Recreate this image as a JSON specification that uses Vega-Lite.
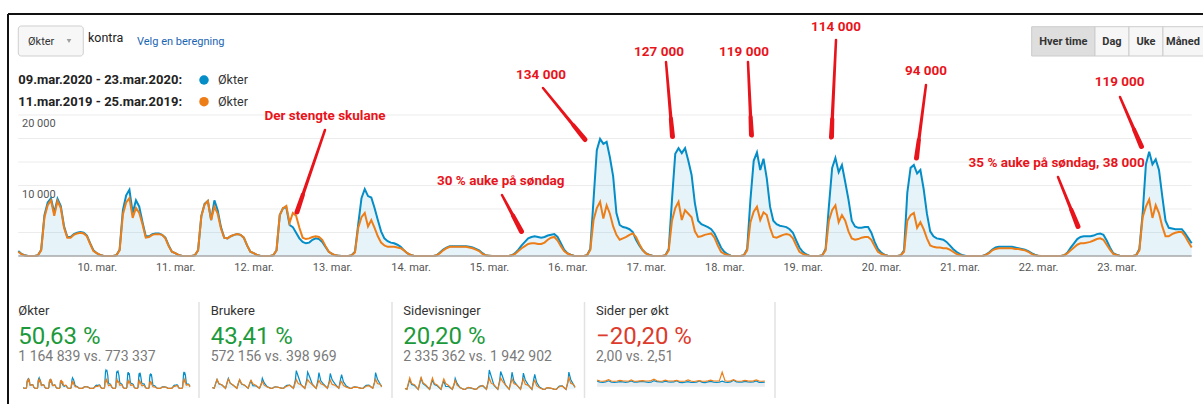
{
"$schema":"https://vega.github.io/schema/vega-lite/v6.json",
"width":1195,"height":390,
"autosize":{"type":"none"},
"padding":{"left":8,"top":14,"right":0,"bottom":0},
"background":"#ffffff",
"config":{"view":{"stroke":null},"font":"Roboto","text":{"font":"Roboto"}},
"datasets":{
"main":[
{"t":"2020-03-09T00:00","a":700,"b":600},{"t":"2020-03-09T01:00","a":300,"b":250},{"t":"2020-03-09T02:00","a":100,"b":80},{"t":"2020-03-09T03:00","a":0,"b":0},{"t":"2020-03-09T04:00","a":0,"b":0},{"t":"2020-03-09T05:00","a":0,"b":0},{"t":"2020-03-09T06:00","a":100,"b":100},{"t":"2020-03-09T07:00","a":900,"b":800},{"t":"2020-03-09T08:00","a":5800,"b":5500},{"t":"2020-03-09T09:00","a":7600,"b":7200},{"t":"2020-03-09T10:00","a":8200,"b":7900},{"t":"2020-03-09T11:00","a":6100,"b":5700},{"t":"2020-03-09T12:00","a":8100,"b":7800},{"t":"2020-03-09T13:00","a":7100,"b":6800},{"t":"2020-03-09T14:00","a":4200,"b":4000},{"t":"2020-03-09T15:00","a":2700,"b":2600},{"t":"2020-03-09T16:00","a":2700,"b":2600},{"t":"2020-03-09T17:00","a":3100,"b":3000},{"t":"2020-03-09T18:00","a":3300,"b":3200},{"t":"2020-03-09T19:00","a":3400,"b":3300},{"t":"2020-03-09T20:00","a":3300,"b":3200},{"t":"2020-03-09T21:00","a":2900,"b":2800},{"t":"2020-03-09T22:00","a":1800,"b":1700},{"t":"2020-03-09T23:00","a":800,"b":700},
{"t":"2020-03-10T00:00","a":400,"b":400},{"t":"2020-03-10T01:00","a":150,"b":150},{"t":"2020-03-10T02:00","a":50,"b":50},{"t":"2020-03-10T03:00","a":0,"b":0},{"t":"2020-03-10T04:00","a":0,"b":0},{"t":"2020-03-10T05:00","a":0,"b":0},{"t":"2020-03-10T06:00","a":100,"b":100},{"t":"2020-03-10T07:00","a":900,"b":800},{"t":"2020-03-10T08:00","a":6500,"b":5900},{"t":"2020-03-10T09:00","a":8600,"b":7600},{"t":"2020-03-10T10:00","a":9400,"b":8200},{"t":"2020-03-10T11:00","a":6100,"b":5400},{"t":"2020-03-10T12:00","a":7900,"b":6800},{"t":"2020-03-10T13:00","a":7000,"b":6100},{"t":"2020-03-10T14:00","a":4800,"b":4500},{"t":"2020-03-10T15:00","a":2800,"b":2600},{"t":"2020-03-10T16:00","a":2800,"b":2700},{"t":"2020-03-10T17:00","a":3100,"b":3000},{"t":"2020-03-10T18:00","a":3200,"b":3100},{"t":"2020-03-10T19:00","a":3200,"b":3100},{"t":"2020-03-10T20:00","a":3000,"b":3000},{"t":"2020-03-10T21:00","a":2600,"b":2500},{"t":"2020-03-10T22:00","a":1500,"b":1400},{"t":"2020-03-10T23:00","a":600,"b":600},
{"t":"2020-03-11T00:00","a":400,"b":400},{"t":"2020-03-11T01:00","a":150,"b":150},{"t":"2020-03-11T02:00","a":50,"b":50},{"t":"2020-03-11T03:00","a":0,"b":0},{"t":"2020-03-11T04:00","a":0,"b":0},{"t":"2020-03-11T05:00","a":0,"b":0},{"t":"2020-03-11T06:00","a":100,"b":100},{"t":"2020-03-11T07:00","a":800,"b":800},{"t":"2020-03-11T08:00","a":5700,"b":5600},{"t":"2020-03-11T09:00","a":7400,"b":7300},{"t":"2020-03-11T10:00","a":7800,"b":7800},{"t":"2020-03-11T11:00","a":5100,"b":5100},{"t":"2020-03-11T12:00","a":7900,"b":7000},{"t":"2020-03-11T13:00","a":6500,"b":6000},{"t":"2020-03-11T14:00","a":4100,"b":3900},{"t":"2020-03-11T15:00","a":2600,"b":2600},{"t":"2020-03-11T16:00","a":2500,"b":2500},{"t":"2020-03-11T17:00","a":2800,"b":2800},{"t":"2020-03-11T18:00","a":3000,"b":3000},{"t":"2020-03-11T19:00","a":3100,"b":3100},{"t":"2020-03-11T20:00","a":3000,"b":3000},{"t":"2020-03-11T21:00","a":2600,"b":2600},{"t":"2020-03-11T22:00","a":1500,"b":1500},{"t":"2020-03-11T23:00","a":600,"b":600},
{"t":"2020-03-12T00:00","a":400,"b":400},{"t":"2020-03-12T01:00","a":150,"b":150},{"t":"2020-03-12T02:00","a":50,"b":50},{"t":"2020-03-12T03:00","a":0,"b":0},{"t":"2020-03-12T04:00","a":0,"b":0},{"t":"2020-03-12T05:00","a":0,"b":0},{"t":"2020-03-12T06:00","a":100,"b":100},{"t":"2020-03-12T07:00","a":800,"b":800},{"t":"2020-03-12T08:00","a":5800,"b":5800},{"t":"2020-03-12T09:00","a":6800,"b":6800},{"t":"2020-03-12T10:00","a":6900,"b":7100},{"t":"2020-03-12T11:00","a":4400,"b":4700},{"t":"2020-03-12T12:00","a":4100,"b":6100},{"t":"2020-03-12T13:00","a":3300,"b":5700},{"t":"2020-03-12T14:00","a":2500,"b":4000},{"t":"2020-03-12T15:00","a":2000,"b":2600},{"t":"2020-03-12T16:00","a":1800,"b":2400},{"t":"2020-03-12T17:00","a":1900,"b":2500},{"t":"2020-03-12T18:00","a":2300,"b":2700},{"t":"2020-03-12T19:00","a":2500,"b":2800},{"t":"2020-03-12T20:00","a":2400,"b":2700},{"t":"2020-03-12T21:00","a":2000,"b":2300},{"t":"2020-03-12T22:00","a":1300,"b":1400},{"t":"2020-03-12T23:00","a":600,"b":600},
{"t":"2020-03-13T00:00","a":300,"b":300},{"t":"2020-03-13T01:00","a":100,"b":100},{"t":"2020-03-13T02:00","a":50,"b":50},{"t":"2020-03-13T03:00","a":0,"b":0},{"t":"2020-03-13T04:00","a":0,"b":0},{"t":"2020-03-13T05:00","a":0,"b":0},{"t":"2020-03-13T06:00","a":100,"b":100},{"t":"2020-03-13T07:00","a":600,"b":500},{"t":"2020-03-13T08:00","a":4500,"b":4000},{"t":"2020-03-13T09:00","a":8200,"b":5500},{"t":"2020-03-13T10:00","a":9500,"b":6100},{"t":"2020-03-13T11:00","a":8500,"b":4200},{"t":"2020-03-13T12:00","a":8300,"b":5100},{"t":"2020-03-13T13:00","a":6800,"b":4000},{"t":"2020-03-13T14:00","a":5100,"b":2800},{"t":"2020-03-13T15:00","a":3500,"b":1900},{"t":"2020-03-13T16:00","a":2500,"b":1500},{"t":"2020-03-13T17:00","a":2100,"b":1300},{"t":"2020-03-13T18:00","a":1900,"b":1300},{"t":"2020-03-13T19:00","a":1800,"b":1300},{"t":"2020-03-13T20:00","a":1600,"b":1200},{"t":"2020-03-13T21:00","a":1300,"b":1100},{"t":"2020-03-13T22:00","a":800,"b":800},{"t":"2020-03-13T23:00","a":400,"b":400},
{"t":"2020-03-14T00:00","a":150,"b":150},{"t":"2020-03-14T01:00","a":50,"b":50},{"t":"2020-03-14T02:00","a":0,"b":0},{"t":"2020-03-14T03:00","a":0,"b":0},{"t":"2020-03-14T04:00","a":0,"b":0},{"t":"2020-03-14T05:00","a":0,"b":0},{"t":"2020-03-14T06:00","a":0,"b":0},{"t":"2020-03-14T07:00","a":0,"b":0},{"t":"2020-03-14T08:00","a":100,"b":100},{"t":"2020-03-14T09:00","a":500,"b":400},{"t":"2020-03-14T10:00","a":900,"b":800},{"t":"2020-03-14T11:00","a":1200,"b":1100},{"t":"2020-03-14T12:00","a":1400,"b":1300},{"t":"2020-03-14T13:00","a":1400,"b":1300},{"t":"2020-03-14T14:00","a":1400,"b":1300},{"t":"2020-03-14T15:00","a":1400,"b":1300},{"t":"2020-03-14T16:00","a":1400,"b":1300},{"t":"2020-03-14T17:00","a":1400,"b":1300},{"t":"2020-03-14T18:00","a":1300,"b":1200},{"t":"2020-03-14T19:00","a":1200,"b":1100},{"t":"2020-03-14T20:00","a":1000,"b":900},{"t":"2020-03-14T21:00","a":800,"b":700},{"t":"2020-03-14T22:00","a":400,"b":300},{"t":"2020-03-14T23:00","a":100,"b":100},
{"t":"2020-03-15T00:00","a":50,"b":50},{"t":"2020-03-15T01:00","a":0,"b":0},{"t":"2020-03-15T02:00","a":0,"b":0},{"t":"2020-03-15T03:00","a":0,"b":0},{"t":"2020-03-15T04:00","a":0,"b":0},{"t":"2020-03-15T05:00","a":0,"b":0},{"t":"2020-03-15T06:00","a":0,"b":0},{"t":"2020-03-15T07:00","a":100,"b":100},{"t":"2020-03-15T08:00","a":400,"b":300},{"t":"2020-03-15T09:00","a":900,"b":700},{"t":"2020-03-15T10:00","a":1500,"b":1100},{"t":"2020-03-15T11:00","a":2000,"b":1400},{"t":"2020-03-15T12:00","a":2500,"b":1700},{"t":"2020-03-15T13:00","a":2700,"b":1800},{"t":"2020-03-15T14:00","a":2800,"b":1800},{"t":"2020-03-15T15:00","a":2700,"b":1700},{"t":"2020-03-15T16:00","a":2600,"b":1700},{"t":"2020-03-15T17:00","a":2700,"b":1900},{"t":"2020-03-15T18:00","a":2900,"b":2300},{"t":"2020-03-15T19:00","a":3000,"b":2600},{"t":"2020-03-15T20:00","a":3100,"b":2700},{"t":"2020-03-15T21:00","a":2700,"b":2200},{"t":"2020-03-15T22:00","a":1800,"b":1400},{"t":"2020-03-15T23:00","a":900,"b":700},
{"t":"2020-03-16T00:00","a":400,"b":350},{"t":"2020-03-16T01:00","a":200,"b":150},{"t":"2020-03-16T02:00","a":50,"b":50},{"t":"2020-03-16T03:00","a":0,"b":0},{"t":"2020-03-16T04:00","a":0,"b":0},{"t":"2020-03-16T05:00","a":0,"b":0},{"t":"2020-03-16T06:00","a":100,"b":100},{"t":"2020-03-16T07:00","a":1000,"b":850},{"t":"2020-03-16T08:00","a":8000,"b":5100},{"t":"2020-03-16T09:00","a":15000,"b":6800},{"t":"2020-03-16T10:00","a":16600,"b":7700},{"t":"2020-03-16T11:00","a":15900,"b":5300},{"t":"2020-03-16T12:00","a":16200,"b":7200},{"t":"2020-03-16T13:00","a":14000,"b":6000},{"t":"2020-03-16T14:00","a":11300,"b":4200},{"t":"2020-03-16T15:00","a":6100,"b":3000},{"t":"2020-03-16T16:00","a":4400,"b":2300},{"t":"2020-03-16T17:00","a":4100,"b":2500},{"t":"2020-03-16T18:00","a":4000,"b":2700},{"t":"2020-03-16T19:00","a":3800,"b":3000},{"t":"2020-03-16T20:00","a":3400,"b":3200},{"t":"2020-03-16T21:00","a":2300,"b":2700},{"t":"2020-03-16T22:00","a":1500,"b":1700},{"t":"2020-03-16T23:00","a":850,"b":850},
{"t":"2020-03-17T00:00","a":400,"b":350},{"t":"2020-03-17T01:00","a":200,"b":150},{"t":"2020-03-17T02:00","a":50,"b":50},{"t":"2020-03-17T03:00","a":0,"b":0},{"t":"2020-03-17T04:00","a":0,"b":0},{"t":"2020-03-17T05:00","a":0,"b":0},{"t":"2020-03-17T06:00","a":100,"b":100},{"t":"2020-03-17T07:00","a":1000,"b":800},{"t":"2020-03-17T08:00","a":8000,"b":5000},{"t":"2020-03-17T09:00","a":14500,"b":6800},{"t":"2020-03-17T10:00","a":15300,"b":7700},{"t":"2020-03-17T11:00","a":14600,"b":5100},{"t":"2020-03-17T12:00","a":15300,"b":6500},{"t":"2020-03-17T13:00","a":13500,"b":6000},{"t":"2020-03-17T14:00","a":11500,"b":5500},{"t":"2020-03-17T15:00","a":7500,"b":3500},{"t":"2020-03-17T16:00","a":5000,"b":2700},{"t":"2020-03-17T17:00","a":4500,"b":2800},{"t":"2020-03-17T18:00","a":4300,"b":3000},{"t":"2020-03-17T19:00","a":4100,"b":3100},{"t":"2020-03-17T20:00","a":3800,"b":3200},{"t":"2020-03-17T21:00","a":3200,"b":2600},{"t":"2020-03-17T22:00","a":2200,"b":1500},{"t":"2020-03-17T23:00","a":1200,"b":600},
{"t":"2020-03-18T00:00","a":600,"b":300},{"t":"2020-03-18T01:00","a":250,"b":150},{"t":"2020-03-18T02:00","a":50,"b":50},{"t":"2020-03-18T03:00","a":0,"b":0},{"t":"2020-03-18T04:00","a":0,"b":0},{"t":"2020-03-18T05:00","a":0,"b":0},{"t":"2020-03-18T06:00","a":100,"b":100},{"t":"2020-03-18T07:00","a":1000,"b":800},{"t":"2020-03-18T08:00","a":8000,"b":4800},{"t":"2020-03-18T09:00","a":13500,"b":6300},{"t":"2020-03-18T10:00","a":14700,"b":7000},{"t":"2020-03-18T11:00","a":12200,"b":5100},{"t":"2020-03-18T12:00","a":13800,"b":6200},{"t":"2020-03-18T13:00","a":11000,"b":5800},{"t":"2020-03-18T14:00","a":7000,"b":4000},{"t":"2020-03-18T15:00","a":5000,"b":2700},{"t":"2020-03-18T16:00","a":4500,"b":2600},{"t":"2020-03-18T17:00","a":4300,"b":2800},{"t":"2020-03-18T18:00","a":4200,"b":3000},{"t":"2020-03-18T19:00","a":4100,"b":3100},{"t":"2020-03-18T20:00","a":3800,"b":3000},{"t":"2020-03-18T21:00","a":3300,"b":2500},{"t":"2020-03-18T22:00","a":2200,"b":1500},{"t":"2020-03-18T23:00","a":1200,"b":600},
{"t":"2020-03-19T00:00","a":600,"b":300},{"t":"2020-03-19T01:00","a":250,"b":150},{"t":"2020-03-19T02:00","a":50,"b":50},{"t":"2020-03-19T03:00","a":0,"b":0},{"t":"2020-03-19T04:00","a":0,"b":0},{"t":"2020-03-19T05:00","a":0,"b":0},{"t":"2020-03-19T06:00","a":100,"b":100},{"t":"2020-03-19T07:00","a":1000,"b":800},{"t":"2020-03-19T08:00","a":7000,"b":5000},{"t":"2020-03-19T09:00","a":12500,"b":6500},{"t":"2020-03-19T10:00","a":13900,"b":7200},{"t":"2020-03-19T11:00","a":11900,"b":4800},{"t":"2020-03-19T12:00","a":12900,"b":5800},{"t":"2020-03-19T13:00","a":10500,"b":5000},{"t":"2020-03-19T14:00","a":8000,"b":3500},{"t":"2020-03-19T15:00","a":5000,"b":2500},{"t":"2020-03-19T16:00","a":4200,"b":2300},{"t":"2020-03-19T17:00","a":4000,"b":2400},{"t":"2020-03-19T18:00","a":4000,"b":2600},{"t":"2020-03-19T19:00","a":4100,"b":2700},{"t":"2020-03-19T20:00","a":4100,"b":2700},{"t":"2020-03-19T21:00","a":3300,"b":2300},{"t":"2020-03-19T22:00","a":2000,"b":1400},{"t":"2020-03-19T23:00","a":1000,"b":600},
{"t":"2020-03-20T00:00","a":500,"b":300},{"t":"2020-03-20T01:00","a":200,"b":150},{"t":"2020-03-20T02:00","a":50,"b":50},{"t":"2020-03-20T03:00","a":0,"b":0},{"t":"2020-03-20T04:00","a":0,"b":0},{"t":"2020-03-20T05:00","a":0,"b":0},{"t":"2020-03-20T06:00","a":100,"b":100},{"t":"2020-03-20T07:00","a":800,"b":600},{"t":"2020-03-20T08:00","a":9000,"b":5000},{"t":"2020-03-20T09:00","a":12500,"b":5800},{"t":"2020-03-20T10:00","a":12900,"b":6100},{"t":"2020-03-20T11:00","a":11700,"b":4000},{"t":"2020-03-20T12:00","a":12200,"b":4800},{"t":"2020-03-20T13:00","a":9500,"b":3800},{"t":"2020-03-20T14:00","a":6000,"b":2500},{"t":"2020-03-20T15:00","a":3500,"b":1500},{"t":"2020-03-20T16:00","a":2800,"b":1300},{"t":"2020-03-20T17:00","a":2500,"b":1200},{"t":"2020-03-20T18:00","a":2400,"b":1200},{"t":"2020-03-20T19:00","a":2300,"b":1100},{"t":"2020-03-20T20:00","a":2000,"b":1100},{"t":"2020-03-20T21:00","a":1500,"b":900},{"t":"2020-03-20T22:00","a":1000,"b":600},{"t":"2020-03-20T23:00","a":600,"b":300},
{"t":"2020-03-21T00:00","a":300,"b":150},{"t":"2020-03-21T01:00","a":100,"b":50},{"t":"2020-03-21T02:00","a":0,"b":0},{"t":"2020-03-21T03:00","a":0,"b":0},{"t":"2020-03-21T04:00","a":0,"b":0},{"t":"2020-03-21T05:00","a":0,"b":0},{"t":"2020-03-21T06:00","a":0,"b":0},{"t":"2020-03-21T07:00","a":0,"b":0},{"t":"2020-03-21T08:00","a":200,"b":150},{"t":"2020-03-21T09:00","a":500,"b":400},{"t":"2020-03-21T10:00","a":900,"b":800},{"t":"2020-03-21T11:00","a":1200,"b":1000},{"t":"2020-03-21T12:00","a":1300,"b":1100},{"t":"2020-03-21T13:00","a":1300,"b":1100},{"t":"2020-03-21T14:00","a":1300,"b":1100},{"t":"2020-03-21T15:00","a":1300,"b":1100},{"t":"2020-03-21T16:00","a":1300,"b":1100},{"t":"2020-03-21T17:00","a":1200,"b":1000},{"t":"2020-03-21T18:00","a":1100,"b":1000},{"t":"2020-03-21T19:00","a":1000,"b":900},{"t":"2020-03-21T20:00","a":900,"b":800},{"t":"2020-03-21T21:00","a":700,"b":600},{"t":"2020-03-21T22:00","a":400,"b":300},{"t":"2020-03-21T23:00","a":200,"b":100},
{"t":"2020-03-22T00:00","a":50,"b":50},{"t":"2020-03-22T01:00","a":0,"b":0},{"t":"2020-03-22T02:00","a":0,"b":0},{"t":"2020-03-22T03:00","a":0,"b":0},{"t":"2020-03-22T04:00","a":0,"b":0},{"t":"2020-03-22T05:00","a":0,"b":0},{"t":"2020-03-22T06:00","a":0,"b":0},{"t":"2020-03-22T07:00","a":0,"b":0},{"t":"2020-03-22T08:00","a":100,"b":100},{"t":"2020-03-22T09:00","a":500,"b":400},{"t":"2020-03-22T10:00","a":1200,"b":800},{"t":"2020-03-22T11:00","a":1800,"b":1200},{"t":"2020-03-22T12:00","a":2400,"b":1600},{"t":"2020-03-22T13:00","a":2700,"b":1800},{"t":"2020-03-22T14:00","a":2800,"b":1800},{"t":"2020-03-22T15:00","a":2800,"b":1900},{"t":"2020-03-22T16:00","a":2800,"b":2000},{"t":"2020-03-22T17:00","a":2900,"b":2200},{"t":"2020-03-22T18:00","a":3100,"b":2400},{"t":"2020-03-22T19:00","a":3200,"b":2500},{"t":"2020-03-22T20:00","a":3000,"b":2300},{"t":"2020-03-22T21:00","a":2200,"b":1600},{"t":"2020-03-22T22:00","a":1200,"b":900},{"t":"2020-03-22T23:00","a":400,"b":300},
{"t":"2020-03-23T00:00","a":200,"b":150},{"t":"2020-03-23T01:00","a":50,"b":50},{"t":"2020-03-23T02:00","a":0,"b":0},{"t":"2020-03-23T03:00","a":0,"b":0},{"t":"2020-03-23T04:00","a":0,"b":0},{"t":"2020-03-23T05:00","a":0,"b":0},{"t":"2020-03-23T06:00","a":100,"b":100},{"t":"2020-03-23T07:00","a":1000,"b":800},{"t":"2020-03-23T08:00","a":6000,"b":5500},{"t":"2020-03-23T09:00","a":13000,"b":7000},{"t":"2020-03-23T10:00","a":14800,"b":8000},{"t":"2020-03-23T11:00","a":13000,"b":5400},{"t":"2020-03-23T12:00","a":13700,"b":7200},{"t":"2020-03-23T13:00","a":12200,"b":6100},{"t":"2020-03-23T14:00","a":8500,"b":4200},{"t":"2020-03-23T15:00","a":5000,"b":2800},{"t":"2020-03-23T16:00","a":4000,"b":2800},{"t":"2020-03-23T17:00","a":3900,"b":3100},{"t":"2020-03-23T18:00","a":3800,"b":3300},{"t":"2020-03-23T19:00","a":3800,"b":3400},{"t":"2020-03-23T20:00","a":3800,"b":3400},{"t":"2020-03-23T21:00","a":3200,"b":2800},{"t":"2020-03-23T22:00","a":2500,"b":2000},{"t":"2020-03-23T23:00","a":1800,"b":1200}
],
"spark":[
{"t":"2020-03-09T00:00","ua":340,"ub":310,"pa":1400,"pb":1500},{"t":"2020-03-09T04:00","ua":0,"ub":0,"pa":0,"pb":0},{"t":"2020-03-09T08:00","ua":2850,"ub":2850,"pa":11600,"pb":13750},{"t":"2020-03-09T10:00","ua":4000,"ub":4100,"pa":16400,"pb":19750},{"t":"2020-03-09T14:00","ua":2050,"ub":2100,"pa":8400,"pb":10000},{"t":"2020-03-09T20:00","ua":1600,"ub":1650,"pa":6600,"pb":8000},
{"t":"2020-03-10T04:00","ua":0,"ub":0,"pa":0,"pb":0},{"t":"2020-03-10T08:00","ua":3200,"ub":3050,"pa":13000,"pb":14750},{"t":"2020-03-10T10:00","ua":4600,"ub":4250,"pa":18800,"pb":20500},{"t":"2020-03-10T14:00","ua":2350,"ub":2350,"pa":9600,"pb":11250},{"t":"2020-03-10T20:00","ua":1450,"ub":1550,"pa":6000,"pb":7500},
{"t":"2020-03-11T04:00","ua":0,"ub":0,"pa":0,"pb":0},{"t":"2020-03-11T08:00","ua":2800,"ub":2900,"pa":11400,"pb":14000},{"t":"2020-03-11T10:00","ua":3800,"ub":4050,"pa":15600,"pb":19500},{"t":"2020-03-11T14:00","ua":2000,"ub":2050,"pa":8200,"pb":9750},{"t":"2020-03-11T20:00","ua":1450,"ub":1550,"pa":6000,"pb":7500},
{"t":"2020-03-12T04:00","ua":0,"ub":0,"pa":0,"pb":0},{"t":"2020-03-12T08:00","ua":2600,"ub":2750,"pa":10600,"pb":13250},{"t":"2020-03-12T10:00","ua":3400,"ub":3700,"pa":13800,"pb":17750},{"t":"2020-03-12T14:00","ua":1200,"ub":2100,"pa":5000,"pb":10000},{"t":"2020-03-12T20:00","ua":1150,"ub":1400,"pa":4800,"pb":6750},
{"t":"2020-03-13T04:00","ua":0,"ub":0,"pa":0,"pb":0},{"t":"2020-03-13T08:00","ua":2200,"ub":2100,"pa":9000,"pb":10000},{"t":"2020-03-13T10:00","ua":4650,"ub":3150,"pa":19000,"pb":15250},{"t":"2020-03-13T14:00","ua":2500,"ub":1450,"pa":10200,"pb":7000},{"t":"2020-03-13T20:00","ua":800,"ub":600,"pa":3200,"pb":3000},
{"t":"2020-03-14T04:00","ua":0,"ub":0,"pa":0,"pb":0},{"t":"2020-03-14T08:00","ua":50,"ub":50,"pa":200,"pb":250},{"t":"2020-03-14T10:00","ua":450,"ub":400,"pa":1800,"pb":2000},{"t":"2020-03-14T14:00","ua":700,"ub":700,"pa":2800,"pb":3250},{"t":"2020-03-14T20:00","ua":500,"ub":450,"pa":2000,"pb":2250},
{"t":"2020-03-15T04:00","ua":0,"ub":0,"pa":0,"pb":0},{"t":"2020-03-15T08:00","ua":200,"ub":150,"pa":800,"pb":750},{"t":"2020-03-15T10:00","ua":750,"ub":550,"pa":3000,"pb":2750},{"t":"2020-03-15T14:00","ua":1350,"ub":950,"pa":5600,"pb":4500},{"t":"2020-03-15T20:00","ua":1500,"ub":1400,"pa":6200,"pb":6750},
{"t":"2020-03-16T04:00","ua":0,"ub":0,"pa":0,"pb":0},{"t":"2020-03-16T08:00","ua":3900,"ub":2650,"pa":16000,"pb":12750},{"t":"2020-03-16T10:00","ua":8150,"ub":4000,"pa":33200,"pb":19250},{"t":"2020-03-16T14:00","ua":5550,"ub":2200,"pa":22600,"pb":10500},{"t":"2020-03-16T20:00","ua":1650,"ub":1650,"pa":6800,"pb":8000},
{"t":"2020-03-17T04:00","ua":0,"ub":0,"pa":0,"pb":0},{"t":"2020-03-17T08:00","ua":3900,"ub":2600,"pa":16000,"pb":12500},{"t":"2020-03-17T10:00","ua":7500,"ub":4000,"pa":30600,"pb":19250},{"t":"2020-03-17T14:00","ua":5400,"ub":2850,"pa":22000,"pb":13750},{"t":"2020-03-17T20:00","ua":1850,"ub":1650,"pa":7600,"pb":8000},
{"t":"2020-03-18T04:00","ua":0,"ub":0,"pa":0,"pb":0},{"t":"2020-03-18T08:00","ua":3900,"ub":2500,"pa":16000,"pb":12000},{"t":"2020-03-18T10:00","ua":7200,"ub":3650,"pa":29400,"pb":17500},{"t":"2020-03-18T14:00","ua":3450,"ub":2100,"pa":14000,"pb":10000},{"t":"2020-03-18T20:00","ua":1850,"ub":1550,"pa":7600,"pb":7500},
{"t":"2020-03-19T04:00","ua":0,"ub":0,"pa":0,"pb":0},{"t":"2020-03-19T08:00","ua":3450,"ub":2600,"pa":14000,"pb":12500},{"t":"2020-03-19T10:00","ua":6800,"ub":3750,"pa":27800,"pb":18000},{"t":"2020-03-19T14:00","ua":3900,"ub":1800,"pa":16000,"pb":8750},{"t":"2020-03-19T20:00","ua":2000,"ub":1400,"pa":8200,"pb":6750},
{"t":"2020-03-20T04:00","ua":0,"ub":0,"pa":0,"pb":0},{"t":"2020-03-20T08:00","ua":4400,"ub":2600,"pa":18000,"pb":12500},{"t":"2020-03-20T10:00","ua":6300,"ub":3150,"pa":25800,"pb":15250},{"t":"2020-03-20T14:00","ua":2950,"ub":1300,"pa":12000,"pb":6250},{"t":"2020-03-20T20:00","ua":1000,"ub":550,"pa":4000,"pb":2750},
{"t":"2020-03-21T04:00","ua":0,"ub":0,"pa":0,"pb":0},{"t":"2020-03-21T08:00","ua":100,"ub":100,"pa":400,"pb":375},{"t":"2020-03-21T10:00","ua":450,"ub":400,"pa":1800,"pb":2000},{"t":"2020-03-21T14:00","ua":650,"ub":550,"pa":2600,"pb":2750},{"t":"2020-03-21T20:00","ua":450,"ub":400,"pa":1800,"pb":2000},
{"t":"2020-03-22T04:00","ua":0,"ub":0,"pa":0,"pb":0},{"t":"2020-03-22T08:00","ua":50,"ub":50,"pa":200,"pb":250},{"t":"2020-03-22T10:00","ua":600,"ub":400,"pa":2400,"pb":2000},{"t":"2020-03-22T14:00","ua":1350,"ub":950,"pa":5600,"pb":4500},{"t":"2020-03-22T20:00","ua":1450,"ub":1200,"pa":6000,"pb":5750},
{"t":"2020-03-23T04:00","ua":0,"ub":0,"pa":0,"pb":0},{"t":"2020-03-23T08:00","ua":2950,"ub":2850,"pa":12000,"pb":13750},{"t":"2020-03-23T10:00","ua":7250,"ub":4150,"pa":29600,"pb":20000},{"t":"2020-03-23T14:00","ua":4150,"ub":2200,"pa":17000,"pb":10500},{"t":"2020-03-23T20:00","ua":1850,"ub":1750,"pa":7600,"pb":8500},{"t":"2020-03-23T23:00","ua":900,"ub":620,"pa":3600,"pb":3000}
],
"ratio":[
{"t":"2020-03-09T01:00","ra":2.4,"rb":2.9},{"t":"2020-03-09T07:00","ra":2.0,"rb":2.5},{"t":"2020-03-09T13:00","ra":1.9,"rb":2.4},{"t":"2020-03-09T19:00","ra":2.1,"rb":2.6},
{"t":"2020-03-10T01:00","ra":2.6,"rb":3.1},{"t":"2020-03-10T07:00","ra":2.0,"rb":2.5},{"t":"2020-03-10T13:00","ra":1.9,"rb":2.4},{"t":"2020-03-10T19:00","ra":2.0,"rb":2.5},
{"t":"2020-03-11T01:00","ra":2.2,"rb":2.8},{"t":"2020-03-11T07:00","ra":2.1,"rb":2.6},{"t":"2020-03-11T13:00","ra":1.9,"rb":2.5},{"t":"2020-03-11T19:00","ra":2.1,"rb":2.4},
{"t":"2020-03-12T01:00","ra":2.5,"rb":3.0},{"t":"2020-03-12T07:00","ra":2.0,"rb":2.4},{"t":"2020-03-12T13:00","ra":2.0,"rb":2.4},{"t":"2020-03-12T19:00","ra":2.2,"rb":2.6},
{"t":"2020-03-13T01:00","ra":2.3,"rb":2.7},{"t":"2020-03-13T07:00","ra":2.1,"rb":2.5},{"t":"2020-03-13T13:00","ra":1.9,"rb":2.5},{"t":"2020-03-13T19:00","ra":2.0,"rb":2.7},
{"t":"2020-03-14T01:00","ra":2.7,"rb":3.3},{"t":"2020-03-14T07:00","ra":2.2,"rb":2.6},{"t":"2020-03-14T13:00","ra":2.1,"rb":2.4},{"t":"2020-03-14T19:00","ra":2.0,"rb":2.5},
{"t":"2020-03-15T01:00","ra":2.4,"rb":2.9},{"t":"2020-03-15T07:00","ra":2.1,"rb":2.5},{"t":"2020-03-15T13:00","ra":2.0,"rb":2.5},{"t":"2020-03-15T19:00","ra":2.1,"rb":2.6},
{"t":"2020-03-16T01:00","ra":2.6,"rb":2.8},{"t":"2020-03-16T07:00","ra":1.9,"rb":2.4},{"t":"2020-03-16T13:00","ra":1.8,"rb":2.4},{"t":"2020-03-16T19:00","ra":2.0,"rb":2.5},
{"t":"2020-03-17T01:00","ra":2.2,"rb":3.0},{"t":"2020-03-17T07:00","ra":1.9,"rb":2.5},{"t":"2020-03-17T13:00","ra":1.9,"rb":2.3},{"t":"2020-03-17T19:00","ra":2.0,"rb":2.5},
{"t":"2020-03-18T01:00","ra":2.5,"rb":2.7},{"t":"2020-03-18T07:00","ra":1.9,"rb":2.4},{"t":"2020-03-18T13:00","ra":1.8,"rb":2.4},{"t":"2020-03-18T19:00","ra":2.1,"rb":2.6},
{"t":"2020-03-19T01:00","ra":2.3,"rb":2.9},{"t":"2020-03-19T07:00","ra":2.0,"rb":2.5},{"t":"2020-03-19T13:00","ra":1.9,"rb":2.5},{"t":"2020-03-19T19:00","ra":2.0,"rb":2.5},
{"t":"2020-03-20T01:00","ra":2.4,"rb":6.4},{"t":"2020-03-20T07:00","ra":2.0,"rb":2.6},{"t":"2020-03-20T13:00","ra":1.9,"rb":2.4},{"t":"2020-03-20T19:00","ra":2.1,"rb":2.6},
{"t":"2020-03-21T01:00","ra":2.8,"rb":3.1},{"t":"2020-03-21T07:00","ra":2.1,"rb":2.5},{"t":"2020-03-21T13:00","ra":2.0,"rb":2.4},{"t":"2020-03-21T19:00","ra":2.0,"rb":2.5},
{"t":"2020-03-22T01:00","ra":2.3,"rb":2.8},{"t":"2020-03-22T07:00","ra":2.1,"rb":2.6},{"t":"2020-03-22T13:00","ra":2.0,"rb":2.5},{"t":"2020-03-22T19:00","ra":2.1,"rb":2.6},
{"t":"2020-03-23T01:00","ra":2.5,"rb":3.0},{"t":"2020-03-23T07:00","ra":1.9,"rb":2.5},{"t":"2020-03-23T13:00","ra":1.9,"rb":2.4},{"t":"2020-03-23T19:00","ra":2.0,"rb":2.5}
],
"notes":[
{"t":"2020-03-12T21:50","v":19858,"label":"Der stengte skulane"},
{"t":"2020-03-15T03:37","v":10638,"label":"30 % auke på søndag"},
{"t":"2020-03-15T15:55","v":25673,"label":"134 000"},
{"t":"2020-03-17T04:01","v":28935,"label":"127 000"},
{"t":"2020-03-18T06:02","v":28935,"label":"119 000"},
{"t":"2020-03-19T10:11","v":32481,"label":"114 000"},
{"t":"2020-03-20T13:43","v":26240,"label":"94 000"},
{"t":"2020-03-22T05:42","v":13191,"label":"35 % auke på søndag, 38 000"},
{"t":"2020-03-23T00:58","v":24680,"label":"119 000"}
],
"arrows":[
{"arrow":1,"seg":"shaft","part":"tail","t":"2020-03-12T21:50","v":17872},{"arrow":1,"seg":"shaft","part":"neck","t":"2020-03-12T15:02","v":8652},{"arrow":1,"seg":"head","part":"base","t":"2020-03-12T15:02","v":8652},{"arrow":1,"seg":"head","part":"tip","t":"2020-03-12T13:16","v":6241},
{"arrow":2,"seg":"shaft","part":"tail","t":"2020-03-15T03:59","v":8652},{"arrow":2,"seg":"shaft","part":"neck","t":"2020-03-15T07:21","v":5730},{"arrow":2,"seg":"head","part":"base","t":"2020-03-15T07:21","v":5730},{"arrow":2,"seg":"head","part":"tip","t":"2020-03-15T09:57","v":3475},
{"arrow":3,"seg":"shaft","part":"tail","t":"2020-03-15T16:32","v":23829},{"arrow":3,"seg":"shaft","part":"neck","t":"2020-03-16T01:53","v":18503},{"arrow":3,"seg":"head","part":"base","t":"2020-03-16T01:53","v":18503},{"arrow":3,"seg":"head","part":"tip","t":"2020-03-16T05:23","v":16524},
{"arrow":4,"seg":"shaft","part":"tail","t":"2020-03-17T06:10","v":27517},{"arrow":4,"seg":"shaft","part":"neck","t":"2020-03-17T07:40","v":19489},{"arrow":4,"seg":"head","part":"base","t":"2020-03-17T07:40","v":19489},{"arrow":4,"seg":"head","part":"tip","t":"2020-03-17T08:09","v":16950},
{"arrow":5,"seg":"shaft","part":"tail","t":"2020-03-18T07:15","v":27517},{"arrow":5,"seg":"shaft","part":"neck","t":"2020-03-18T08:03","v":19716},{"arrow":5,"seg":"head","part":"base","t":"2020-03-18T08:03","v":19716},{"arrow":5,"seg":"head","part":"tip","t":"2020-03-18T08:19","v":17163},
{"arrow":6,"seg":"shaft","part":"tail","t":"2020-03-19T10:11","v":30637},{"arrow":6,"seg":"shaft","part":"neck","t":"2020-03-19T09:02","v":19432},{"arrow":6,"seg":"head","part":"base","t":"2020-03-19T09:02","v":19432},{"arrow":6,"seg":"head","part":"tip","t":"2020-03-19T08:48","v":16879},
{"arrow":7,"seg":"shaft","part":"tail","t":"2020-03-20T13:43","v":24255},{"arrow":7,"seg":"shaft","part":"neck","t":"2020-03-20T11:31","v":16439},{"arrow":7,"seg":"head","part":"base","t":"2020-03-20T11:31","v":16439},{"arrow":7,"seg":"head","part":"tip","t":"2020-03-20T10:49","v":13900},
{"arrow":8,"seg":"shaft","part":"tail","t":"2020-03-22T06:06","v":11205},{"arrow":8,"seg":"shaft","part":"neck","t":"2020-03-22T10:10","v":6553},{"arrow":8,"seg":"head","part":"base","t":"2020-03-22T10:10","v":6553},{"arrow":8,"seg":"head","part":"tip","t":"2020-03-22T12:13","v":4184},
{"arrow":9,"seg":"shaft","part":"tail","t":"2020-03-23T01:04","v":22553},{"arrow":9,"seg":"shaft","part":"neck","t":"2020-03-23T05:26","v":17872},{"arrow":9,"seg":"head","part":"base","t":"2020-03-23T05:26","v":17872},{"arrow":9,"seg":"head","part":"tip","t":"2020-03-23T07:38","v":15531}
],
"grid":[{"v":3333},{"v":6667},{"v":10000},{"v":13333},{"v":16667},{"v":20000}],
"legend":[
{"period":"09.mar.2020 - 23.mar.2020:","series":"2020","metric":"Økter","v":24964},
{"period":"11.mar.2019 - 25.mar.2019:","series":"2019","metric":"Økter","v":21886}
],
"buttons":[
{"label":"Hver time","t":"2020-03-21T22:03","t2":"2020-03-22T17:25","tl":"2020-03-22T07:44"},
{"label":"Dag","t":"2020-03-22T17:25","t2":"2020-03-23T03:49","tl":"2020-03-22T22:37"},
{"label":"Uke","t":"2020-03-23T03:49","t2":"2020-03-23T14:13","tl":"2020-03-23T09:01"},
{"label":"Måned","t":"2020-03-23T14:13","t2":"2020-03-24T06:08","tl":"2020-03-23T20:20"}
],
"cards":[
{"metric":"Økter","change":"50,63 %","detail":"1 164 839 vs. 773 337","t":"2020-03-09T00:00","up":true},
{"metric":"Brukere","change":"43,41 %","detail":"572 156 vs. 398 969","t":"2020-03-11T10:52","up":true},
{"metric":"Sidevisninger","change":"20,20 %","detail":"2 335 362 vs. 1 942 902","t":"2020-03-13T21:47","up":true},
{"metric":"Sider per økt","change":"−20,20 %","detail":"2,00 vs. 2,51","t":"2020-03-16T08:45","up":false}
],
"seps":[{"t":"2020-03-11T07:17"},{"t":"2020-03-13T18:20"},{"t":"2020-03-16T05:14"},{"t":"2020-03-18T15:31"}]
},
"resolve":{"scale":{"x":"independent","y":"independent","color":"independent","size":"independent"}},
"layer":[
{
"layer":[
{"data":{"name":"grid"},"mark":{"type":"rule","color":"#ececec","strokeWidth":1},
 "encoding":{"x":{"datum":{"year":2020,"month":3,"date":9,"hours":0},"type":"temporal"},"x2":{"datum":{"year":2020,"month":3,"date":23,"hours":23}},"y":{"field":"v","type":"quantitative"}}},
{"data":{"name":"main"},"mark":{"type":"area","color":"#058dc7","opacity":0.1,"interpolate":"linear"},
 "encoding":{
  "x":{"field":"t","type":"temporal","scale":{"domain":[{"year":2020,"month":3,"date":8,"hours":20,"minutes":51},{"year":2020,"month":3,"date":24,"hours":2,"minutes":28}],"nice":false},
   "axis":{"values":[{"year":2020,"month":3,"date":10},{"year":2020,"month":3,"date":11},{"year":2020,"month":3,"date":12},{"year":2020,"month":3,"date":13},{"year":2020,"month":3,"date":14},{"year":2020,"month":3,"date":15},{"year":2020,"month":3,"date":16},{"year":2020,"month":3,"date":17},{"year":2020,"month":3,"date":18},{"year":2020,"month":3,"date":19},{"year":2020,"month":3,"date":20},{"year":2020,"month":3,"date":21},{"year":2020,"month":3,"date":22},{"year":2020,"month":3,"date":23}],
    "format":"%-d. mar.","offset":-148,"domain":false,"ticks":false,"grid":false,"labelPadding":5,"labelFontSize":11,"labelColor":"#555555","labelFont":"Roboto","title":null}},
  "y":{"field":"a","type":"quantitative","scale":{"domain":[-20993,34326],"nice":false,"zero":false},
   "axis":{"values":[10000,20000],"labelExpr":"datum.value == 10000 ? '10 000' : '20 000'","domain":false,"ticks":false,"grid":false,"labelAlign":"left","labelBaseline":"top","labelPadding":-13.5,"labelOffset":3,"labelFontSize":11,"labelColor":"#555555","labelFont":"Roboto","title":null}},
  "y2":{"datum":0}}},
{"data":{"name":"main"},"mark":{"type":"line","color":"#058dc7","strokeWidth":2},
 "encoding":{"x":{"field":"t","type":"temporal"},"y":{"field":"a","type":"quantitative"}}},
{"data":{"name":"main"},"mark":{"type":"line","color":"#ed7e17","strokeWidth":2},
 "encoding":{"x":{"field":"t","type":"temporal"},"y":{"field":"b","type":"quantitative"}}},
{"data":{"values":[{}]},"mark":{"type":"rule","color":"#a8a8a8","strokeWidth":1.5},
 "encoding":{"x":{"datum":{"year":2020,"month":3,"date":9,"hours":0},"type":"temporal"},"x2":{"datum":{"year":2020,"month":3,"date":23,"hours":23}},"y":{"datum":0}}},
{"data":{"values":[{}]},"mark":{"type":"rule","color":"#111111","strokeWidth":2},
 "encoding":{"x":{"datum":{"year":2020,"month":3,"date":8,"hours":20,"minutes":51},"type":"temporal"},"x2":{"datum":{"year":2020,"month":3,"date":24,"hours":2,"minutes":28}},"y":{"datum":34326}}},
{"data":{"values":[{}]},"mark":{"type":"rule","color":"#111111","strokeWidth":2},
 "encoding":{"x":{"datum":{"year":2020,"month":3,"date":8,"hours":20,"minutes":51},"type":"temporal"},"y":{"datum":-20993},"y2":{"datum":34326}}},
{"data":{"name":"arrows"},"mark":{"type":"trail","color":"#e8141b"},
 "encoding":{"x":{"field":"t","type":"temporal"},"y":{"field":"v","type":"quantitative"},"detail":[{"field":"arrow","type":"nominal"},{"field":"seg","type":"nominal"}],
  "size":{"field":"part","type":"ordinal","scale":{"domain":["tail","neck","base","tip"],"range":[2.5,5,16,0]},"legend":null}}},
{"data":{"name":"notes"},"mark":{"type":"text","color":"#e8141b","fontWeight":"bold","fontSize":13.5,"font":"Roboto","align":"center","baseline":"middle"},
 "encoding":{"x":{"field":"t","type":"temporal"},"y":{"field":"v","type":"quantitative"},"text":{"field":"label"}}},
{"data":{"values":[{"label":"Økter","t":"2020-03-09T00:00","t2":"2020-03-09T19:53","tl":"2020-03-09T02:58"}]},"mark":{"type":"rect","fill":"#f7f7f7","stroke":"#cfcfcf","strokeWidth":1,"cornerRadius":3},
 "encoding":{"x":{"field":"t","type":"temporal"},"x2":{"field":"t2"},"y":{"datum":32623},"y2":{"datum":28368}}},
{"data":{"values":[{"label":"Økter","t":"2020-03-09T00:00","t2":"2020-03-09T19:53","tl":"2020-03-09T02:58"}]},"mark":{"type":"text","fontSize":11,"color":"#333333","align":"left","baseline":"middle"},
 "encoding":{"x":{"field":"tl","type":"temporal"},"y":{"datum":30354},"text":{"field":"label"}}},
{"data":{"values":[{"icon":"dropdown"}]},"mark":{"type":"point","shape":"triangle-down","filled":true,"color":"#777777","size":22},
 "encoding":{"x":{"datum":{"year":2020,"month":3,"date":9,"hours":15,"minutes":31},"type":"temporal"},"y":{"datum":30496}}},
{"data":{"values":[{"text":"kontra","t":"2020-03-09T21:19","v":30992}]},"mark":{"type":"text","fontSize":12.5,"color":"#222222","align":"left","baseline":"middle"},
 "encoding":{"x":{"field":"t","type":"temporal"},"y":{"field":"v","type":"quantitative"},"text":{"field":"text"}}},
{"data":{"values":[{"text":"Velg en beregning","t":"2020-03-10T12:19","v":30425}]},"mark":{"type":"text","fontSize":11,"color":"#1a66b3","align":"left","baseline":"middle"},
 "encoding":{"x":{"field":"t","type":"temporal"},"y":{"field":"v","type":"quantitative"},"text":{"field":"text"}}},
{"data":{"name":"legend"},"mark":{"type":"text","fontSize":13,"fontWeight":"bold","color":"#222222","align":"left","baseline":"middle"},
 "encoding":{"x":{"datum":{"year":2020,"month":3,"date":9,"hours":0},"type":"temporal"},"y":{"field":"v","type":"quantitative"},"text":{"field":"period"}}},
{"data":{"name":"legend"},"mark":{"type":"point","filled":true,"size":90,"opacity":1},
 "encoding":{"x":{"datum":{"year":2020,"month":3,"date":11,"hours":8,"minutes":49},"type":"temporal"},"y":{"field":"v","type":"quantitative"},
  "color":{"field":"series","type":"nominal","scale":{"domain":["2020","2019"],"range":["#058dc7","#ed7e17"]},"legend":null}}},
{"data":{"name":"legend"},"mark":{"type":"text","fontSize":12.5,"color":"#333333","align":"left","baseline":"middle"},
 "encoding":{"x":{"datum":{"year":2020,"month":3,"date":11,"hours":13,"minutes":6},"type":"temporal"},"y":{"field":"v","type":"quantitative"},"text":{"field":"metric"}}},
{"data":{"name":"buttons"},"mark":{"type":"rect","stroke":"#cccccc","strokeWidth":1},
 "encoding":{"x":{"field":"t","type":"temporal"},"x2":{"field":"t2"},"y":{"datum":32524},"y2":{"datum":28368},
  "fill":{"condition":{"test":"datum.label == 'Hver time'","value":"#dedede"},"value":"#f6f6f6"}}},
{"data":{"name":"buttons"},"mark":{"type":"text","fontSize":11,"fontWeight":"bold","color":"#333333","align":"center","baseline":"middle"},
 "encoding":{"x":{"field":"tl","type":"temporal"},"y":{"datum":30425},"text":{"field":"label"}}},
{"data":{"name":"seps"},"mark":{"type":"rule","color":"#e2e2e2","strokeWidth":1.5},
 "encoding":{"x":{"field":"t","type":"temporal"},"y":{"datum":-6525},"y2":{"datum":-20141}}},
{"data":{"name":"cards"},"mark":{"type":"text","fontSize":13,"color":"#333333","align":"left","baseline":"middle"},
 "encoding":{"x":{"field":"t","type":"temporal"},"y":{"datum":-7759},"text":{"field":"metric"}}},
{"data":{"name":"cards"},"mark":{"type":"text","fontSize":24,"align":"left","baseline":"middle"},
 "encoding":{"x":{"field":"t","type":"temporal"},"y":{"datum":-11447},"text":{"field":"change"},
  "color":{"condition":{"test":"datum.up","value":"#1c9a3b"},"value":"#dd3b2c"}}},
{"data":{"name":"cards"},"mark":{"type":"text","fontSize":14,"color":"#7a7a7a","align":"left","baseline":"middle"},
 "encoding":{"x":{"field":"t","type":"temporal"},"y":{"datum":-14283},"text":{"field":"detail"}}}
]
},
{
"data":{"name":"main"},
"layer":[
{"mark":{"type":"area","color":"#058dc7","opacity":0.08},
 "encoding":{"x":{"field":"t","type":"temporal","scale":{"domain":[{"year":2020,"month":3,"date":7,"hours":15,"minutes":3},{"year":2020,"month":6,"date":22,"hours":20,"minutes":30}],"nice":false},"axis":null},
  "y":{"field":"a","type":"quantitative","scale":{"domain":[-14242,339530],"nice":false,"zero":false},"axis":null},"y2":{"datum":0}}},
{"mark":{"type":"line","color":"#058dc7","strokeWidth":1.2},"encoding":{"x":{"field":"t","type":"temporal"},"y":{"field":"a","type":"quantitative"}}},
{"mark":{"type":"line","color":"#ed7e17","strokeWidth":1.2},"encoding":{"x":{"field":"t","type":"temporal"},"y":{"field":"b","type":"quantitative"}}}
]
},
{
"data":{"name":"spark"},
"layer":[
{"mark":{"type":"area","color":"#058dc7","opacity":0.08},
 "encoding":{"x":{"field":"t","type":"temporal","scale":{"domain":[{"year":2020,"month":2,"date":19,"hours":23,"minutes":2},{"year":2020,"month":6,"date":4,"hours":11,"minutes":30}],"nice":false},"axis":null},
  "y":{"field":"ua","type":"quantitative","scale":{"domain":[-7222,172178],"nice":false,"zero":false},"axis":null},"y2":{"datum":0}}},
{"mark":{"type":"line","color":"#058dc7","strokeWidth":1.2},"encoding":{"x":{"field":"t","type":"temporal"},"y":{"field":"ua","type":"quantitative"}}},
{"mark":{"type":"line","color":"#ed7e17","strokeWidth":1.2},"encoding":{"x":{"field":"t","type":"temporal"},"y":{"field":"ub","type":"quantitative"}}}
]
},
{
"data":{"name":"spark"},
"layer":[
{"mark":{"type":"area","color":"#058dc7","opacity":0.08},
 "encoding":{"x":{"field":"t","type":"temporal","scale":{"domain":[{"year":2020,"month":2,"date":3,"hours":1,"minutes":37},{"year":2020,"month":5,"date":18,"hours":5,"minutes":12}],"nice":false},"axis":null},
  "y":{"field":"pa","type":"quantitative","scale":{"domain":[-25284,645516],"nice":false,"zero":false},"axis":null},"y2":{"datum":0}}},
{"mark":{"type":"line","color":"#058dc7","strokeWidth":1.2},"encoding":{"x":{"field":"t","type":"temporal"},"y":{"field":"pa","type":"quantitative"}}},
{"mark":{"type":"line","color":"#ed7e17","strokeWidth":1.2},"encoding":{"x":{"field":"t","type":"temporal"},"y":{"field":"pb","type":"quantitative"}}}
]
},
{
"data":{"name":"ratio"},
"layer":[
{"mark":{"type":"area","color":"#9fb3c4","opacity":0.25},
 "encoding":{"x":{"field":"t","type":"temporal","scale":{"domain":[{"year":2020,"month":1,"date":17,"hours":4,"minutes":48},{"year":2020,"month":5,"date":1,"hours":8,"minutes":24}],"nice":false},"axis":null},
  "y":{"field":"ra","type":"quantitative","scale":{"domain":[-7.61,164.0],"nice":false,"zero":false},"axis":null},"y2":{"datum":0}}},
{"mark":{"type":"line","color":"#058dc7","strokeWidth":1.2},"encoding":{"x":{"field":"t","type":"temporal"},"y":{"field":"ra","type":"quantitative"}}},
{"mark":{"type":"line","color":"#ed7e17","strokeWidth":1.2},"encoding":{"x":{"field":"t","type":"temporal"},"y":{"field":"rb","type":"quantitative"}}}
]
}
]
}
